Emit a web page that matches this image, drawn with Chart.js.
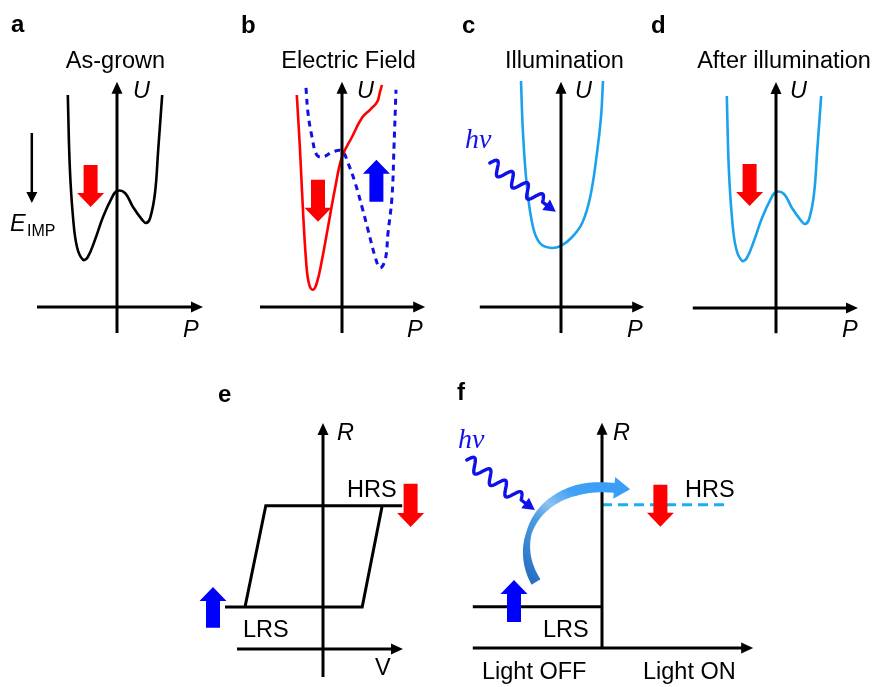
<!DOCTYPE html>
<html>
<head>
<meta charset="utf-8">
<script src="https://cdn.jsdelivr.net/npm/chart.js@4.4.1/dist/chart.umd.min.js"></script>
<style>
  body { margin: 0; background: #fff; }
  #fig { position: relative; width: 875px; height: 687px; overflow: hidden; }
  #fig canvas { position: absolute; }
</style>
</head>
<body>
<div id="fig"></div>
<script>
// ---- data (P/U and V/R in schematic units) ----
const panelLetters = ["a", "b", "c", "d", "e", "f"];
const panelTitles = ["As-grown", "Electric Field", "Illumination", "After illumination"];
const energyAxisNames = ["P", "U"];
const switchAxisNames = ["V", "R"];
const stateNames = ["HRS", "LRS"];
const lightLabels = ["Light OFF", "Light ON"];

// double well (as-grown, after illumination)
const wellP = [-1.23, -1.18, -1.1, -1.0, -0.85, -0.73, -0.55, -0.35, -0.13, 0, 0.2, 0.4, 0.63, 0.73, 0.83, 0.95, 1.03, 1.13];
const wellU = [5.3, 3.5, 2.25, 1.5, 1.18, 1.25, 1.68, 2.25, 2.73, 2.9, 2.85, 2.5, 2.18, 2.1, 2.23, 2.85, 3.93, 5.3];

// electric field: tilted wells
const fieldRedP = [-1.13, -1.05, -0.98, -0.9, -0.83, -0.73, -0.63, -0.5, -0.35, -0.18, 0, 0.25, 0.5, 0.7, 0.88, 0.95, 1.0];
const fieldRedU = [5.3, 3.93, 2.5, 1.18, 0.6, 0.43, 0.6, 1.18, 2.0, 2.93, 3.75, 4.25, 4.73, 4.93, 5.13, 5.38, 5.55];
const fieldBlueP = [-0.9, -0.85, -0.75, -0.63, -0.48, -0.23, 0, 0.15, 0.33, 0.5, 0.65, 0.83, 0.95, 1.08, 1.15, 1.25, 1.3, 1.35];
const fieldBlueU = [5.48, 4.85, 4.25, 3.8, 3.75, 3.88, 3.9, 3.6, 3.1, 2.5, 1.93, 1.25, 0.98, 1.18, 1.85, 2.75, 4.0, 5.43];

// illumination: single well
const illumP = [-1.0, -0.95, -0.85, -0.7, -0.53, -0.28, 0, 0.28, 0.53, 0.73, 0.9, 1.0, 1.05];
const illumU = [5.65, 4.35, 3.0, 2.0, 1.6, 1.48, 1.53, 1.75, 2.1, 2.75, 3.85, 4.75, 5.65];

// R-V loop
const loopV = [-2.45, 0.98, 1.48, 1.98, -1.43, -1.95];
const loopR = [1.05, 1.05, 3.58, 3.58, 3.58, 1.05];

// light switching levels
const lrsX = [-3.23, 0];
const lrsR = [1.03, 1.03];
const hrsX = [0, 3.08];
const hrsR = [3.58, 3.58];

// polarization arrows: [x, start, end]
const polArrowA = [-0.66, 3.55, 2.5];
const polArrowB = [-0.6, 3.18, 2.13];
const polArrowB2 = [0.86, 2.63, 3.68];
const polArrowD = [-0.66, 3.6, 2.55];
const polArrowE = [2.19, 4.13, 3.05];
const polArrowE2 = [-2.75, 0.53, 1.55];
const polArrowF = [1.46, 4.08, 3.03];
const polArrowF2 = [-2.2, 0.65, 1.7];
const eImpArrow = [-2.13, 4.35, 2.6];

// photon arrows: [x1, y1, x2, y2]
const photonC = [-1.78, 3.6, -0.13, 2.38];
const photonF = [-3.38, 4.7, -1.68, 3.45];
// curved transition arrow (bezier control points)
const jumpCurve = [[-1.65, 1.65], [-2.35, 2.83], [-1.43, 4.2], [0.33, 4.0]];

// ---- layout ----
const UNIT = 40;
const FONT = '"Liberation Sans", Arial, sans-serif';
const TXT = "23.5px";
const RED = "#ff0000", BLUE = "#0000ff", SKY = "#1ca2ec", PHOTON = "#1010e8";

const pts = (xs, ys) => xs.map((x, i) => ({ x: x, y: ys[i] }));
const line = (xs, ys, color, extra) => Object.assign({
  data: pts(xs, ys), showLine: true, borderColor: color, borderWidth: 2.6,
  pointRadius: 0, tension: 0.4, fill: false
}, extra || {});

const panels = {
  a: {
    box: [0, 0, 215, 345], origin: [117, 307], xAxis: [-2.0, 2.15], yAxis: [-0.65, 5.63],
    datasets: [line(wellP, wellU, "#000")],
    blocks: [[polArrowA, RED]], thin: eImpArrow,
    texts: [
      [panelLetters[0], 11, 32, "bold 24px", "left"],
      [panelTitles[0], 115.5, 68, TXT, "center"],
      [energyAxisNames[1], 133, 98, "italic " + TXT, "left"],
      [energyAxisNames[0], 183, 337, "italic " + TXT, "left"],
      ["E", 10, 231, "italic " + TXT, "left"],
      ["IMP", 27, 236, "16px", "left"]
    ]
  },
  b: {
    box: [220, 0, 220, 345], origin: [342, 307], xAxis: [-2.05, 2.08], yAxis: [-0.65, 5.63],
    datasets: [
      line(fieldRedP, fieldRedU, RED),
      line(fieldBlueP, fieldBlueU, PHOTON, { borderWidth: 3, borderDash: [6, 5] })
    ],
    blocks: [[polArrowB, RED], [polArrowB2, BLUE]],
    texts: [
      [panelLetters[1], 241, 33, "bold 24px", "left"],
      [panelTitles[1], 348.5, 68, TXT, "center"],
      [energyAxisNames[1], 357, 98, "italic " + TXT, "left"],
      [energyAxisNames[0], 407, 337, "italic " + TXT, "left"]
    ]
  },
  c: {
    box: [440, 0, 205, 345], origin: [561, 307], xAxis: [-2.03, 2.08], yAxis: [-0.65, 5.63],
    datasets: [line(illumP, illumU, SKY)],
    blocks: [], photon: photonC,
    texts: [
      [panelLetters[2], 462, 33, "bold 24px", "left"],
      [panelTitles[2], 564.5, 68, TXT, "center"],
      [energyAxisNames[1], 575, 98, "italic " + TXT, "left"],
      [energyAxisNames[0], 627, 337, "italic " + TXT, "left"],
      ["h\u03bd", 465, 148, "italic 28px", "left", PHOTON, '"Liberation Serif", serif']
    ]
  },
  d: {
    box: [645, 0, 230, 345], origin: [776, 308], xAxis: [-2.08, 2.05], yAxis: [-0.63, 5.65],
    datasets: [line(wellP, wellU, SKY)],
    blocks: [[polArrowD, RED]],
    texts: [
      [panelLetters[3], 651, 33, "bold 24px", "left"],
      [panelTitles[3], 784, 68, TXT, "center"],
      [energyAxisNames[1], 790, 98, "italic " + TXT, "left"],
      [energyAxisNames[0], 842, 337, "italic " + TXT, "left"]
    ]
  },
  e: {
    box: [190, 370, 250, 317], origin: [323, 649], xAxis: [-2.15, 2.0], yAxis: [-0.7, 5.65],
    datasets: [line(loopV, loopR, "#000", { tension: 0, borderWidth: 3 })],
    blocks: [[polArrowE, RED], [polArrowE2, BLUE]],
    texts: [
      [panelLetters[4], 218, 402, "bold 24px", "left"],
      [switchAxisNames[1], 337, 440, "italic " + TXT, "left"],
      [switchAxisNames[0], 375, 675, TXT, "left"],
      [stateNames[0], 347, 497, TXT, "left"],
      [stateNames[1], 243, 637, TXT, "left"]
    ]
  },
  f: {
    box: [440, 370, 435, 317], origin: [602, 648], xAxis: [-3.23, 3.78], yAxis: [0, 5.63],
    datasets: [
      line(lrsX, lrsR, "#000", { tension: 0, borderWidth: 3 }),
      line(hrsX, hrsR, "#18aef0", { tension: 0, borderWidth: 3, borderDash: [10, 6] })
    ],
    blocks: [[polArrowF, RED], [polArrowF2, BLUE]], photon: photonF, curve: jumpCurve,
    texts: [
      [panelLetters[5], 457, 400, "bold 24px", "left"],
      [switchAxisNames[1], 613, 440, "italic " + TXT, "left"],
      [stateNames[0], 685, 497, TXT, "left"],
      [stateNames[1], 543, 637, TXT, "left"],
      [lightLabels[0], 482, 679, TXT, "left"],
      [lightLabels[1], 643, 679, TXT, "left"],
      ["h\u03bd", 458, 448, "italic 28px", "left", PHOTON, '"Liberation Serif", serif']
    ]
  }
};

// ---- drawing helpers ----
function head(ctx, x, y, ang, len, half) {
  const c = Math.cos(ang), s = Math.sin(ang);
  ctx.beginPath();
  ctx.moveTo(x, y);
  ctx.lineTo(x - len * c + half * s, y - len * s - half * c);
  ctx.lineTo(x - len * c - half * s, y - len * s + half * c);
  ctx.closePath();
  ctx.fill();
}

function arrowLine(ctx, x1, y1, x2, y2, w, len, half, color) {
  const ang = Math.atan2(y2 - y1, x2 - x1);
  ctx.strokeStyle = color; ctx.fillStyle = color; ctx.lineWidth = w; ctx.lineCap = "butt";
  ctx.beginPath();
  ctx.moveTo(x1, y1);
  ctx.lineTo(x2 - (len - 1) * Math.cos(ang), y2 - (len - 1) * Math.sin(ang));
  ctx.stroke();
  head(ctx, x2, y2, ang, len, half);
}

function blockArrow(ctx, x, y1, y2, color) {
  const dir = Math.sign(y2 - y1), hs = 7, hh = 13.5, hl = 14;
  const yb = y2 - dir * hl;
  ctx.fillStyle = color;
  ctx.beginPath();
  ctx.moveTo(x - hs, y1); ctx.lineTo(x + hs, y1); ctx.lineTo(x + hs, yb);
  ctx.lineTo(x + hh, yb); ctx.lineTo(x, y2); ctx.lineTo(x - hh, yb);
  ctx.lineTo(x - hs, yb); ctx.closePath();
  ctx.fill();
}

function wavyArrow(ctx, x1, y1, x2, y2, color) {
  const dx = x2 - x1, dy = y2 - y1, L = Math.hypot(dx, dy);
  const ux = dx / L, uy = dy / L, nx = -uy, ny = ux;
  const wl = L * 0.8, waves = 3.5, amp = 6.5;
  ctx.strokeStyle = color; ctx.lineWidth = 3.4; ctx.lineJoin = "round"; ctx.lineCap = "round";
  ctx.beginPath();
  for (let i = 0; i <= 160; i++) {
    const s = i / 160 * wl, o = -amp * Math.sin(s / wl * waves * 2 * Math.PI);
    const X = x1 + ux * s + nx * o, Y = y1 + uy * s + ny * o;
    if (i) ctx.lineTo(X, Y); else ctx.moveTo(X, Y);
  }
  ctx.lineTo(x2 - ux * 8, y2 - uy * 8);
  ctx.stroke();
  ctx.fillStyle = color;
  head(ctx, x2, y2, Math.atan2(dy, dx), 12, 6.5);
}

function curvedArrow(ctx, P) {
  const bz = t => {
    const m = 1 - t;
    return [0, 1].map(k => m * m * m * P[0][k] + 3 * m * m * t * P[1][k] + 3 * m * t * t * P[2][k] + t * t * t * P[3][k]);
  };
  const wAt = t => t < 0.35 ? 10.5 - 5 * t / 0.35 : (t < 0.8 ? 5.5 + 5 * (t - 0.35) / 0.45 : 10.5 - (t - 0.8) * 3);
  const left = [], right = [];
  const N = 60;
  for (let i = 0; i <= N; i++) {
    const t = i / N, a = bz(Math.max(0, t - 0.01)), b = bz(Math.min(1, t + 0.01)), p = bz(t);
    const tx = b[0] - a[0], ty = b[1] - a[1], l = Math.hypot(tx, ty);
    const nx = -ty / l, ny = tx / l, w = wAt(t) / 2;
    left.push([p[0] + nx * w, p[1] + ny * w]);
    right.push([p[0] - nx * w, p[1] - ny * w]);
  }
  const g = ctx.createLinearGradient(P[0][0], P[0][1], P[3][0], P[3][1]);
  g.addColorStop(0, "#2870c4");
  g.addColorStop(0.4, "#4d9de2");
  g.addColorStop(0.55, "#8cc2f2");
  g.addColorStop(0.75, "#40a0f4");
  g.addColorStop(1, "#3a9ef6");
  ctx.fillStyle = g;
  ctx.beginPath();
  left.forEach((p, i) => i ? ctx.lineTo(p[0], p[1]) : ctx.moveTo(p[0], p[1]));
  right.reverse().forEach(p => ctx.lineTo(p[0], p[1]));
  ctx.closePath();
  ctx.fill();
  const a = bz(0.97), b = bz(1);
  const ang = Math.atan2(b[1] - a[1], b[0] - a[0]);
  ctx.fillStyle = "#3a9ef6";
  head(ctx, b[0] + 15 * Math.cos(ang), b[1] + 15 * Math.sin(ang), ang, 16, 11);
}

const figurePlugin = {
  id: "figure",
  afterDatasetsDraw(chart) {
    const cfg = panels[chart.canvas.id];
    const ctx = chart.ctx;
    const X = v => chart.scales.x.getPixelForValue(v);
    const Y = v => chart.scales.y.getPixelForValue(v);
    ctx.save();
    // axes
    arrowLine(ctx, X(cfg.xAxis[0]), Y(0), X(cfg.xAxis[1]), Y(0), 3, 12, 5.5, "#000");
    arrowLine(ctx, X(0), Y(cfg.yAxis[0]), X(0), Y(cfg.yAxis[1]), 3, 12, 5.5, "#000");
    if (cfg.thin) arrowLine(ctx, X(cfg.thin[0]), Y(cfg.thin[1]), X(cfg.thin[0]), Y(cfg.thin[2]), 2.5, 11, 5.5, "#000");
    cfg.blocks.forEach(b => blockArrow(ctx, X(b[0][0]), Y(b[0][1]), Y(b[0][2]), b[1]));
    if (cfg.photon) {
      const p = cfg.photon;
      wavyArrow(ctx, X(p[0]), Y(p[1]), X(p[2]), Y(p[3]), PHOTON);
    }
    if (cfg.curve) curvedArrow(ctx, cfg.curve.map(p => [X(p[0]), Y(p[1])]));
    // text
    const L = cfg.box[0], T = cfg.box[1];
    cfg.texts.forEach(t => {
      ctx.font = t[3] + " " + (t[6] || FONT);
      ctx.fillStyle = t[5] || "#000";
      ctx.textAlign = t[4];
      ctx.textBaseline = "alphabetic";
      ctx.fillText(t[0], t[1] - L, t[2] - T);
    });
    ctx.restore();
  }
};

const fig = document.getElementById("fig");
Object.keys(panels).forEach(id => {
  const cfg = panels[id];
  const [L, T, W, H] = cfg.box;
  const [ox, oy] = cfg.origin;
  const canvas = document.createElement("canvas");
  canvas.id = id;
  canvas.width = W; canvas.height = H;
  canvas.style.left = L + "px"; canvas.style.top = T + "px";
  canvas.style.width = W + "px"; canvas.style.height = H + "px";
  fig.appendChild(canvas);
  new Chart(canvas, {
    type: "scatter",
    data: { datasets: cfg.datasets },
    options: {
      responsive: false,
      animation: false,
      events: [],
      devicePixelRatio: 1,
      layout: { padding: 0 },
      plugins: { legend: { display: false }, tooltip: { enabled: false } },
      scales: {
        x: { type: "linear", display: false, min: (L - ox) / UNIT, max: (L + W - ox) / UNIT },
        y: { type: "linear", display: false, min: (oy - (T + H)) / UNIT, max: (oy - T) / UNIT }
      }
    },
    plugins: [figurePlugin]
  });
});
</script>
</body>
</html>
